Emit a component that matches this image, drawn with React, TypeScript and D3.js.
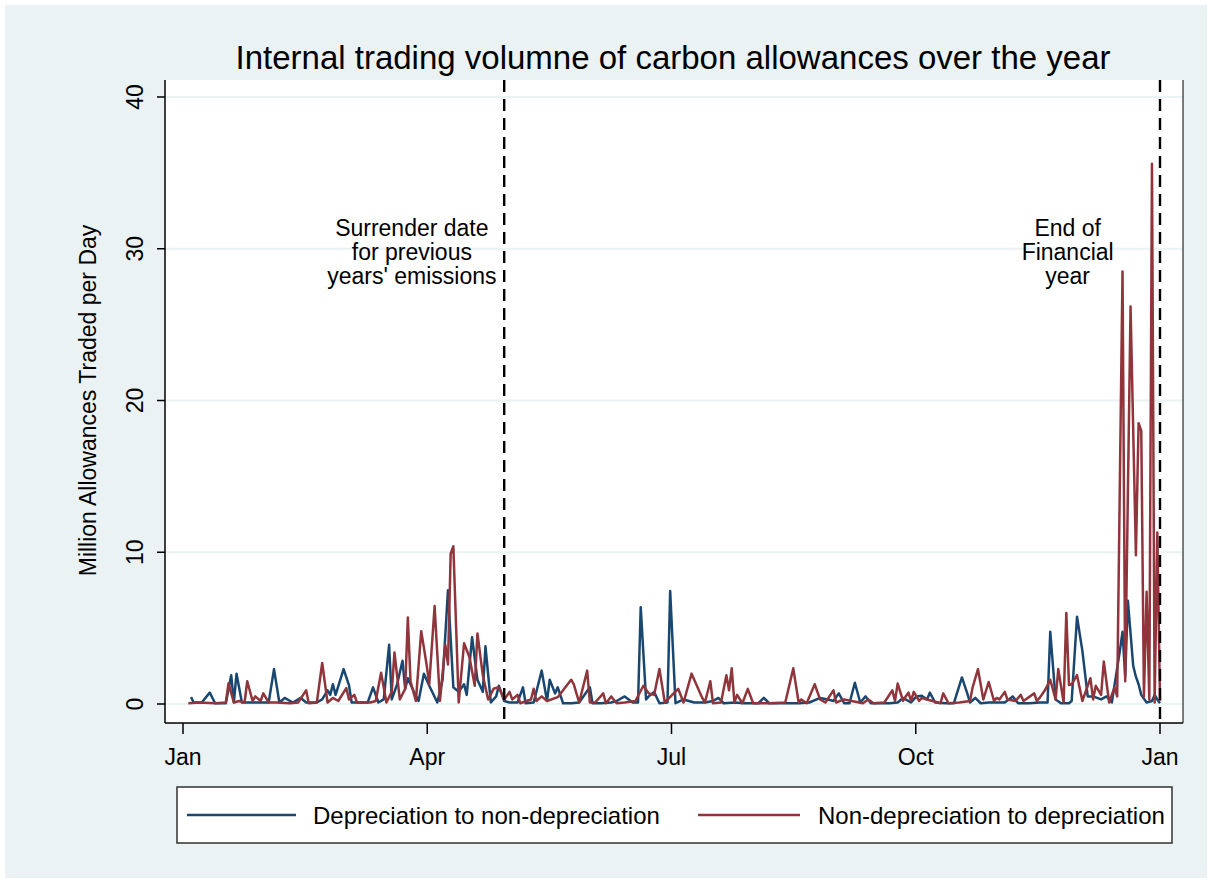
import React from "react";
import * as d3 from "d3";

const title = "Internal trading volumne of carbon allowances over the year";
const yAxisTitle = "Million Allowances Traded per Day";
const yTicks = [0, 10, 20, 30, 40];
const xTickDays = [0, 91.25, 182.5, 273.75, 365];
const xTickLabels = ["Jan", "Apr", "Jul", "Oct", "Jan"];
const seriesNames = ["Depreciation to non-depreciation", "Non-depreciation to depreciation"];
const seriesColors = ["#1a476f", "#90353b"];
const markerDays = [120, 365];
const markerLabels = [
  ["Surrender date", "for previous", "years' emissions"],
  ["End of", "Financial", "year"],
];
const markerLabelDays = [85.5, 330.5];

// Depreciation to non-depreciation (day of year, million allowances)
const blueDays = [3, 4, 7, 10, 12, 16, 18, 19, 20, 22, 25, 29, 32, 34, 36, 38, 41, 44, 46, 50, 52, 54, 55, 56, 57, 60, 62, 63, 66, 69, 71, 73, 75, 77, 78, 80, 82, 83, 84, 86, 88, 90, 92, 95, 97, 99, 101, 103, 105, 106, 108, 110, 112, 113, 115, 117, 118, 120, 122, 125, 127, 128, 131, 134, 136, 137, 139, 140, 142, 145, 148, 152, 153, 156, 160, 162, 165, 168, 170, 171, 173, 174, 176, 178, 181, 182, 184, 187, 191, 195, 198, 200, 202, 206, 210, 215, 217, 219, 225, 230, 234, 238, 241, 243, 245, 247, 249, 251, 253, 255, 257, 260, 264, 267, 269, 272, 274, 276, 278, 279, 281, 285, 288, 291, 293, 294, 296, 298, 301, 304, 307, 310, 312, 316, 320, 323, 324, 326, 328, 331, 332, 334, 336, 338, 340, 343, 345, 347, 350, 351, 352, 353, 355, 356, 357, 358, 360, 362, 363, 364, 365];
const blueVals = [0.45, 0.1, 0.1, 0.75, 0.05, 0.05, 1.9, 0.1, 2.0, 0.1, 0.1, 0.1, 0.1, 2.3, 0.1, 0.4, 0.1, 0.4, 0.1, 0.1, 0.3, 0.9, 0.6, 1.3, 0.6, 2.3, 1.25, 0.1, 0.1, 0.1, 1.1, 0.1, 0.3, 3.9, 0.3, 1.3, 2.85, 1.0, 1.7, 0.9, 0.2, 2.0, 1.2, 0.1, 1.6, 7.5, 1.1, 0.8, 1.3, 0.6, 4.4, 1.6, 0.8, 3.8, 0.1, 0.5, 1.2, 0.2, 0.1, 0.1, 1.1, 0.05, 0.1, 2.2, 0.2, 1.6, 0.7, 1.1, 0.05, 0.05, 0.1, 1.1, 0.05, 0.05, 0.1, 0.2, 0.5, 0.1, 0.1, 6.37, 0.3, 0.5, 0.8, 0.05, 0.1, 7.44, 0.05, 0.3, 0.1, 0.1, 0.2, 0.4, 0.05, 0.1, 0.05, 0.05, 0.4, 0.05, 0.05, 0.05, 0.1, 0.4, 0.3, 0.2, 0.7, 0.05, 0.05, 1.4, 0.1, 0.5, 0.05, 0.05, 0.05, 0.1, 0.4, 0.1, 0.5, 0.55, 0.3, 0.75, 0.1, 0.05, 0.05, 1.75, 0.7, 0.1, 0.4, 0.05, 0.1, 0.1, 0.1, 0.5, 0.05, 0.05, 0.1, 0.1, 4.76, 0.3, 0.05, 0.05, 0.2, 5.75, 3.5, 0.5, 0.5, 0.3, 0.5, 0.1, 3.5, 4.76, 1.8, 6.8, 2.5, 1.8, 1.3, 0.6, 0.1, 0.2, 0.6, 0.3, 0.05];

// Non-depreciation to depreciation (day of year, million allowances)
const redDays = [2, 6, 12, 16, 17, 19, 21, 23, 24, 26, 27, 29, 30, 32, 35, 40, 43, 46, 47, 50, 52, 54, 56, 58, 61, 62, 64, 65, 70, 72, 74, 76, 78, 79, 81, 83, 84, 85, 87, 89, 91, 92, 94, 96, 98, 99, 100, 101, 103, 105, 107, 109, 110, 112, 114, 116, 118, 120, 122, 123, 125, 126, 130, 131, 132, 134, 136, 140, 142, 145, 146, 148, 151, 152, 154, 157, 158, 160, 162, 165, 169, 172, 174, 176, 178, 180, 185, 187, 190, 194, 195, 197, 198, 201, 203, 204, 205, 206, 207, 209, 211, 213, 219, 225, 228, 230, 231, 233, 236, 238, 240, 243, 244, 247, 254, 256, 258, 262, 265, 266, 267, 269, 270, 271, 272, 273, 275, 276, 278, 280, 283, 284, 286, 290, 294, 295, 297, 299, 301, 303, 304, 305, 307, 308, 311, 313, 314, 318, 319, 320, 322, 324, 326, 327, 329, 330, 331, 332, 334, 336, 339, 340, 341, 343, 344, 346, 348, 349, 351, 352, 354, 356, 357, 358, 359, 360, 361, 362, 363, 364, 365];
const redVals = [0.05, 0.1, 0.05, 0.1, 1.36, 0.1, 0.2, 0.1, 1.5, 0.2, 0.5, 0.2, 0.7, 0.1, 0.1, 0.05, 0.1, 0.9, 0.05, 0.1, 2.7, 0.1, 0.4, 0.2, 1.05, 0.3, 0.6, 0.1, 0.1, 0.2, 2.06, 0.1, 0.8, 3.4, 0.3, 1.0, 5.7, 1.5, 0.2, 4.8, 2.6, 1.3, 6.45, 0.2, 3.9, 2.6, 9.9, 10.4, 0.1, 4.0, 3.1, 1.2, 4.65, 1.9, 0.3, 1.0, 1.1, 0.3, 0.8, 0.3, 0.6, 0.05, 0.3, 1.0, 0.2, 0.5, 0.2, 0.45, 0.9, 1.6, 1.3, 0.1, 2.2, 0.1, 0.1, 0.7, 0.05, 0.5, 0.05, 0.1, 0.2, 1.2, 0.7, 0.6, 2.3, 0.1, 1.0, 0.1, 2.0, 0.4, 0.1, 1.5, 0.05, 0.1, 1.9, 0.9, 2.35, 0.1, 0.6, 0.05, 1.0, 0.05, 0.05, 0.1, 2.35, 0.1, 0.3, 0.05, 1.3, 0.3, 0.1, 0.9, 0.1, 0.3, 0.05, 0.3, 0.05, 0.1, 0.9, 0.2, 1.35, 0.2, 0.5, 0.75, 0.2, 0.8, 0.2, 0.4, 0.3, 0.2, 0.05, 0.7, 0.05, 0.1, 0.2, 1.1, 2.3, 0.3, 1.45, 0.2, 0.4, 0.3, 0.8, 0.3, 0.2, 0.6, 0.2, 0.7, 0.2, 0.4, 0.9, 1.6, 0.3, 2.3, 0.1, 6.0, 1.25, 1.3, 1.9, 0.2, 1.7, 0.3, 1.2, 0.6, 2.8, 0.1, 1.1, 0.5, 28.5, 1.5, 26.2, 9.8, 18.5, 18.0, 0.5, 7.4, 0.3, 35.6, 0.1, 11.3, 0.2];

const W = 1212;
const H = 882;
const FONT = "'Liberation Sans', Arial, Helvetica, sans-serif";
const plot = { left: 165, right: 1183, top: 80, bottom: 723 };

export default function App() {
  const x = d3.scaleLinear().domain([0, 365]).range([183, 1160]);
  const y = d3.scaleLinear().domain([0, 40]).range([704, 97]);

  const blue = blueDays.map((d, i) => [d, blueVals[i]] as [number, number]);
  const red = redDays.map((d, i) => [d, redVals[i]] as [number, number]);
  const line = d3
    .line<[number, number]>()
    .x((d) => x(d[0]))
    .y((d) => y(d[1]));

  return (
    <svg
      width={W}
      height={H}
      style={{ position: "absolute", left: 0, top: 0, fontFamily: FONT }}
    >
      <rect x={0} y={0} width={W} height={H} fill="#ffffff" />
      <rect x={5} y={5} width={W - 10} height={H - 9} fill="#eaf2f3" />
      <rect
        x={plot.left}
        y={plot.top}
        width={plot.right - plot.left}
        height={plot.bottom - plot.top}
        fill="#ffffff"
      />
      {yTicks.map((t) => (
        <line
          key={"g" + t}
          x1={plot.left}
          x2={plot.right}
          y1={y(t)}
          y2={y(t)}
          stroke="#eaf2f3"
          strokeWidth={2}
        />
      ))}
      <text x={673} y={69} textAnchor="middle" fontSize={33} fill="#000">
        {title}
      </text>
      <path d={line(blue) || ""} fill="none" stroke={seriesColors[0]} strokeWidth={2.5} strokeLinejoin="round" />
      <path d={line(red) || ""} fill="none" stroke={seriesColors[1]} strokeWidth={2.5} strokeLinejoin="round" />
      {markerDays.map((d) => (
        <line
          key={"m" + d}
          x1={x(d)}
          x2={x(d)}
          y1={plot.top}
          y2={plot.bottom}
          stroke="#000"
          strokeWidth={2.4}
          strokeDasharray="12,7"
        />
      ))}
      {markerLabels.map((lines, i) =>
        lines.map((s, j) => (
          <text
            key={"ml" + i + j}
            x={x(markerLabelDays[i])}
            y={236 + j * 24}
            textAnchor="middle"
            fontSize={23}
            fill="#000"
          >
            {s}
          </text>
        ))
      )}
      <line x1={plot.left} x2={plot.left} y1={plot.top} y2={plot.bottom} stroke="#000" strokeWidth={1.5} />
      <line x1={plot.left} x2={plot.right} y1={plot.bottom} y2={plot.bottom} stroke="#000" strokeWidth={1.5} />
      <line x1={plot.right} x2={plot.right} y1={plot.top} y2={plot.bottom} stroke="#000" strokeWidth={1} />
      {yTicks.map((t) => (
        <g key={"yt" + t}>
          <line x1={plot.left - 8} x2={plot.left} y1={y(t)} y2={y(t)} stroke="#000" strokeWidth={1.5} />
          <text
            transform={`translate(143, ${y(t)}) rotate(-90)`}
            textAnchor="middle"
            fontSize={23}
            fill="#000"
          >
            {t}
          </text>
        </g>
      ))}
      <text
        transform={`translate(96, ${(y(0) + y(40)) / 2}) rotate(-90)`}
        textAnchor="middle"
        fontSize={23}
        fill="#000"
      >
        {yAxisTitle}
      </text>
      {xTickDays.map((d, i) => (
        <g key={"xt" + i}>
          <line x1={x(d)} x2={x(d)} y1={plot.bottom} y2={plot.bottom + 11} stroke="#000" strokeWidth={1.5} />
          <text x={x(d)} y={765} textAnchor="middle" fontSize={23} fill="#000">
            {xTickLabels[i]}
          </text>
        </g>
      ))}
      <rect x={177} y={787} width={995} height={56} fill="#ffffff" stroke="#333" strokeWidth={1.5} />
      <line x1={187} x2={296} y1={815} y2={815} stroke={seriesColors[0]} strokeWidth={2.5} />
      <text x={313} y={824} fontSize={24} fill="#000">
        {seriesNames[0]}
      </text>
      <line x1={698} x2={800} y1={815} y2={815} stroke={seriesColors[1]} strokeWidth={2.5} />
      <text x={818} y={824} fontSize={24} fill="#000">
        {seriesNames[1]}
      </text>
    </svg>
  );
}
